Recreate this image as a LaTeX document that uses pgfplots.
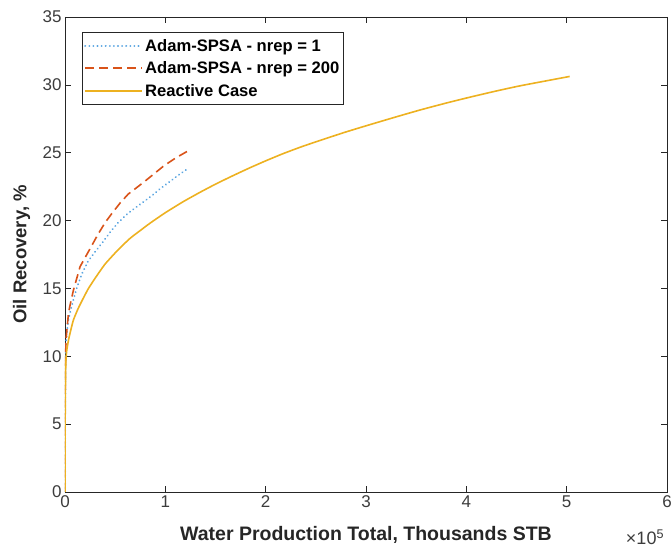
\documentclass[border=0pt]{standalone}
\usepackage{pgfplots}
\pgfplotsset{compat=1.18}
\usepackage{fontspec}
\setmainfont{Liberation Sans}
\usetikzlibrary{calc}
\definecolor{cblue}{RGB}{90,165,225}
\definecolor{corange}{RGB}{217,83,25}
\definecolor{cyellow}{RGB}{237,177,32}
\definecolor{cframe}{RGB}{38,38,38}
\definecolor{ctick}{RGB}{60,60,60}
\begin{document}
\begin{tikzpicture}
\begin{axis}[
  scale only axis,
  width=602pt, height=475pt,
  xmin=0, xmax=6, ymin=0, ymax=35,
  xtick={0,1,2,3,4,5,6},
  ytick={0,5,10,15,20,25,30,35},
  tick align=inside,
  major tick length=6pt,
  axis line style={cframe, line width=0.7pt},
  every tick/.style={cframe, line width=0.6pt},
  /pgf/number format/assume math mode=true,
  tick label style={font=\fontsize{17}{20}\selectfont, text=ctick},
  xlabel={Water Production Total, Thousands STB},
  ylabel={Oil Recovery, \%},
  xlabel style={font=\fontsize{19.5}{22}\selectfont\bfseries, text=black!85, at={(axis description cs:0.5,-0.0905)}, anchor=center},
  ylabel style={font=\fontsize{18.5}{22}\selectfont\bfseries, text=black!85, at={(axis description cs:-0.072,0.5)}, anchor=center, rotate=0},
  legend cell align=left,
  legend style={at={(0.028,0.968)}, anchor=north west, draw=cframe, line width=0.6pt,
    font=\fontsize{16.6}{19}\selectfont\bfseries, inner xsep=2pt, inner ysep=4.5pt,
    row sep=5pt,
    nodes={inner xsep=2pt, inner ysep=2pt}},
  legend image code/.code={\draw[#1] (0pt,0pt) -- (57pt,0pt);},
]
\addplot[cblue, line width=2pt, line cap=round, dash pattern=on 0.1pt off 4pt] coordinates {
(0,0) (0.001,5) (0.003,8) (0.01,11.0) (0.02,11.9) (0.035,12.7) (0.06,13.5) (0.085,14.2)
(0.12,15.1) (0.17,16.1) (0.23,17.0) (0.30,17.7) (0.37,18.35) (0.45,19.15) (0.53,19.85)
(0.63,20.55) (0.74,21.15) (0.86,21.8) (0.95,22.35) (1.05,22.9) (1.14,23.4) (1.23,23.85)
};
\addlegendentry{Adam-SPSA - nrep = 1}
\addplot[corange, line width=1.6pt, dash pattern=on 9pt off 5pt] coordinates {
(0,0) (0.001,6) (0.003,9) (0.01,11.2) (0.017,11.8) (0.035,13.2) (0.06,14.1) (0.085,14.9)
(0.15,16.6) (0.21,17.4) (0.27,18.2) (0.33,19.0) (0.40,19.85) (0.47,20.55) (0.55,21.3)
(0.63,21.95) (0.78,22.8) (0.88,23.4) (0.98,24.0) (1.10,24.6) (1.23,25.15)
};
\addlegendentry{Adam-SPSA - nrep = 200}
\addplot[cyellow, line width=1.6pt, smooth, tension=0.3] coordinates {
(0,0) (0.001,4) (0.003,7) (0.008,9.5) (0.017,10.4) (0.035,11.2) (0.06,12.0) (0.085,12.7)
(0.13,13.5) (0.17,14.1) (0.23,14.95) (0.30,15.75) (0.40,16.8) (0.53,17.85) (0.65,18.7)
(0.765,19.35) (0.85,19.82) (1.0,20.58) (1.18,21.4) (1.35,22.1) (1.51,22.72) (1.68,23.33)
(1.84,23.88) (2.0,24.4) (2.17,24.92) (2.35,25.42) (2.54,25.9) (2.8,26.53) (3.04,27.07)
(3.3,27.64) (3.54,28.15) (3.8,28.66) (4.04,29.1) (4.3,29.55) (4.53,29.92) (4.8,30.3) (5.03,30.62)
};
\addlegendentry{Reactive Case}
\end{axis}
\node[font=\fontsize{18}{21}\selectfont, text=ctick, anchor=center] at ($(current axis.south east)+(-22pt,-45pt)$) {×10\textsuperscript{5}};
\pgfresetboundingbox
\path[use as bounding box] ($(current axis.south west)+(-65pt,-60pt)$) rectangle ($(current axis.north east)+(4pt,17pt)$);
\end{tikzpicture}
\end{document}
